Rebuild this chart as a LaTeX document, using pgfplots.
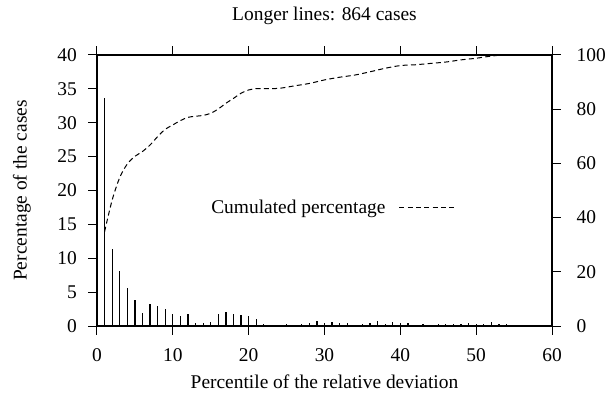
\documentclass[border=0pt]{standalone}
\usepackage{pgfplots}
\pgfplotsset{compat=1.18}
\usepackage{fontspec}
\setmainfont{Liberation Serif}
\begin{document}
\begin{tikzpicture}[font=\fontsize{19.5}{22}\selectfont]
\useasboundingbox (-97bp,-71bp) rectangle (515bp,326bp);
\pgfplotsset{
  every axis/.append style={
    scale only axis, width=455bp, height=271bp,
    at={(0,0)}, anchor=south west,
    xmin=0, xmax=60,
    tick align=outside,
    major tick length=8.5bp,
    minor tick num=0,
    tick style={line width=1bp, black},
    axis line style={line width=1.1bp},
    /pgf/number format/assume math mode=true,
  }
}
\begin{axis}[
  ymin=0, ymax=40,
  xtick={0,10,...,60}, xtick pos=both, xticklabel pos=left,
  ytick={0,5,...,40}, ytick pos=left,
  xticklabel style={anchor=center, inner sep=0pt, yshift=-20.5bp},
  yticklabel style={anchor=east, inner sep=0pt, xshift=-11.5bp},
  xlabel={Percentile of the relative deviation},
  ylabel={Percentage of the cases},
  title={Longer lines: 864 cases},
  xlabel style={at={(rel axis cs:0.5,0)}, anchor=center, inner sep=0pt, yshift=-56bp},
  ylabel style={at={(rel axis cs:0,0.5)}, anchor=center, inner sep=0pt, yshift=75bp},
  title style={at={(rel axis cs:0.5,1)}, anchor=center, inner sep=0pt, yshift=33.5bp},
]
\addplot[ycomb, line width=1.2bp, black, mark=none] coordinates {
(1,33.6) (2,11.3) (3,8.1) (4,5.66) (5,3.84) (6,1.97) (7,3.25) (8,2.95) (9,2.56) (10,1.72)
(11,1.48) (12,1.72) (13,0.4) (14,0.4) (15,0.64) (16,1.72) (17,2.02) (18,1.77) (19,1.57) (20,1.48)
(21,1.03) (22,0.25) (25,0.3) (26,0.2) (27,0.35) (28,0.5) (29,0.7) (30,0.5)
(31,0.6) (32,0.4) (33,0.5) (34,0.15) (35,0.25) (36,0.5) (37,0.7) (38,0.35) (39,0.6) (40,0.4)
(41,0.4) (43,0.3) (44,0.15) (45,0.25) (46,0.35) (47,0.25) (48,0.35) (49,0.5) (50,0.3)
(51,0.35) (52,0.6) (53,0.3) (54,0.25) (55,0.15)
};
\end{axis}
\begin{axis}[
  ymin=0, ymax=100,
  xtick=\empty,
  ytick={0,20,...,100}, ytick pos=right, yticklabel pos=right,
  yticklabel style={anchor=west, inner sep=0pt, xshift=16bp},
  legend plot pos=right,
  legend style={draw=none, fill=none, at={(rel axis cs:0.7934,0.439)}, anchor=east,
    inner sep=0pt, outer sep=0pt},
  legend image code/.code={\path[draw=none, fill=none] (0bp,-1bp) rectangle (12bp,1bp); \draw[#1] (12bp,0bp) -- (70bp,0bp);},
]
\addplot[smooth, black, line width=1bp, dash pattern=on 5bp off 3.3bp, mark=none] coordinates {
(1,34.8) (2,46.5) (3,54.8) (4,59.8) (5,62.6) (6,64.4) (7,66.8) (8,69.9) (9,72.6) (10,74.2)
(11,75.8) (12,77) (13,77.4) (14,77.7) (15,78.5) (16,80.1) (17,82.2) (18,84) (19,85.9) (20,87.1)
(21,87.6) (22,87.6) (24,87.7) (26,88.6) (28,89.5) (30,90.8) (32,91.8) (34,92.6) (36,93.8)
(38,95.1) (40,96.1) (42,96.4) (44,96.9) (46,97.4) (48,98.2) (50,98.8) (52,99.6) (54,100) (60,100)
};
\addlegendentry{Cumulated percentage}
\end{axis}
\end{tikzpicture}
\end{document}
